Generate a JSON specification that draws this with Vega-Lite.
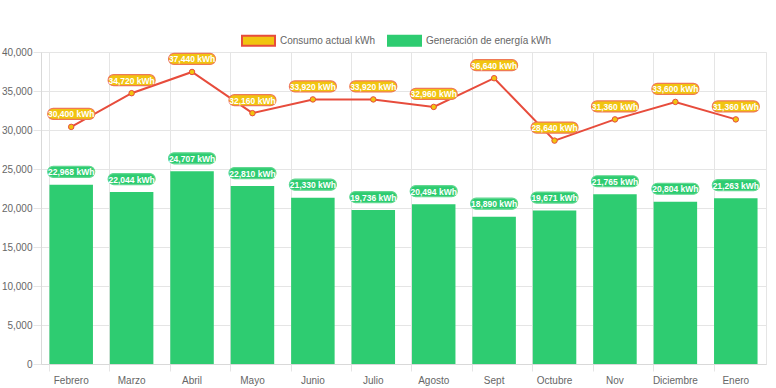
{
  "$schema": "https://vega.github.io/schema/vega-lite/v6.json",
  "width": 725,
  "height": 312,
  "autosize": {"type": "none"},
  "padding": {"left": 41, "top": 52, "right": 10, "bottom": 24},
  "background": "white",
  "config": {
    "font": "Liberation Sans",
    "view": {"stroke": "#e5e5e5"},
    "axis": {"labelColor": "#666", "labelFontSize": 10, "gridColor": "#e5e5e5", "tickColor": "#e5e5e5", "domainColor": "#d9d9d9", "titleFontSize": 11}
  },
  "data": {
    "values": [
      {"mes": "Febrero", "serie": "Consumo actual kWh", "valor": 30400},
      {"mes": "Marzo", "serie": "Consumo actual kWh", "valor": 34720},
      {"mes": "Abril", "serie": "Consumo actual kWh", "valor": 37440},
      {"mes": "Mayo", "serie": "Consumo actual kWh", "valor": 32160},
      {"mes": "Junio", "serie": "Consumo actual kWh", "valor": 33920},
      {"mes": "Julio", "serie": "Consumo actual kWh", "valor": 33920},
      {"mes": "Agosto", "serie": "Consumo actual kWh", "valor": 32960},
      {"mes": "Sept", "serie": "Consumo actual kWh", "valor": 36640},
      {"mes": "Octubre", "serie": "Consumo actual kWh", "valor": 28640},
      {"mes": "Nov", "serie": "Consumo actual kWh", "valor": 31360},
      {"mes": "Diciembre", "serie": "Consumo actual kWh", "valor": 33600},
      {"mes": "Enero", "serie": "Consumo actual kWh", "valor": 31360},
      {"mes": "Febrero", "serie": "Generación de energía kWh", "valor": 22968},
      {"mes": "Marzo", "serie": "Generación de energía kWh", "valor": 22044},
      {"mes": "Abril", "serie": "Generación de energía kWh", "valor": 24707},
      {"mes": "Mayo", "serie": "Generación de energía kWh", "valor": 22810},
      {"mes": "Junio", "serie": "Generación de energía kWh", "valor": 21330},
      {"mes": "Julio", "serie": "Generación de energía kWh", "valor": 19736},
      {"mes": "Agosto", "serie": "Generación de energía kWh", "valor": 20494},
      {"mes": "Sept", "serie": "Generación de energía kWh", "valor": 18890},
      {"mes": "Octubre", "serie": "Generación de energía kWh", "valor": 19671},
      {"mes": "Nov", "serie": "Generación de energía kWh", "valor": 21765},
      {"mes": "Diciembre", "serie": "Generación de energía kWh", "valor": 20804},
      {"mes": "Enero", "serie": "Generación de energía kWh", "valor": 21263}
    ]
  },
  "transform": [
    {"calculate": "format(datum.valor, ',') + ' kWh'", "as": "etiqueta"}
  ],
  "encoding": {
    "x": {
      "field": "mes", "type": "nominal", "sort": null,
      "scale": {"paddingInner": 0.28, "paddingOuter": 0.14},
      "axis": {"title": null, "labelAngle": 0, "bandPosition": 0, "tickSize": 7, "labelPadding": 4, "grid": true, "domainColor": "#d9d9d9"}
    },
    "y": {
      "field": "valor", "type": "quantitative",
      "scale": {"domain": [0, 40000]},
      "axis": {"title": null, "tickCount": 8, "format": ",.0f", "tickSize": 8, "labelPadding": 1, "grid": true}
    }
  },
  "layer": [
    {
      "transform": [{"filter": "datum.serie === 'Generación de energía kWh'"}],
      "mark": {"type": "bar", "strokeWidth": 0},
      "encoding": {
        "fill": {
          "field": "serie", "type": "nominal",
          "scale": {"domain": ["Consumo actual kWh", "Generación de energía kWh"], "range": ["#F1C40F", "#2ECC71"]},
          "legend": {
            "orient": "none", "legendX": 200, "legendY": -29, "direction": "horizontal", "title": null,
            "symbolType": "M-1,-0.3H1V0.3H-1Z", "symbolSize": 1089, "symbolStrokeWidth": 2,
            "labelFontSize": 10, "labelColor": "#666", "labelOffset": 4, "columnPadding": 8
          }
        },
        "stroke": {
          "field": "serie", "type": "nominal",
          "scale": {"domain": ["Consumo actual kWh", "Generación de energía kWh"], "range": ["#E74C3C", "#2ECC71"]},
          "legend": {
            "orient": "none", "legendX": 200, "legendY": -29, "direction": "horizontal", "title": null,
            "symbolType": "M-1,-0.3H1V0.3H-1Z", "symbolSize": 1089, "symbolStrokeWidth": 2,
            "labelFontSize": 10, "labelColor": "#666", "labelOffset": 4, "columnPadding": 8
          }
        }
      }
    },
    {
      "transform": [{"filter": "datum.serie === 'Consumo actual kWh'"}],
      "mark": {"type": "line", "color": "#E74C3C", "strokeWidth": 2},
      "encoding": {}
    },
    {
      "transform": [{"filter": "datum.serie === 'Consumo actual kWh'"}],
      "mark": {"type": "point", "filled": true, "fill": "#F1C40F", "stroke": "#E74C3C", "strokeWidth": 1, "size": 30, "opacity": 1},
      "encoding": {}
    },
    {
      "transform": [{"filter": "datum.serie === 'Consumo actual kWh'"}],
      "mark": {"type": "tick", "orient": "horizontal", "size": 47, "thickness": 11, "cornerRadius": 5.5, "color": "#F1C40F", "stroke": "#EF7A55", "strokeWidth": 1.2, "opacity": 1, "yOffset": -13},
      "encoding": {}
    },
    {
      "transform": [{"filter": "datum.serie === 'Generación de energía kWh'"}],
      "mark": {"type": "tick", "orient": "horizontal", "size": 47, "thickness": 11, "cornerRadius": 5.5, "color": "#2ECC71", "stroke": "#62D891", "strokeWidth": 1.2, "opacity": 1, "yOffset": -13},
      "encoding": {}
    },
    {
      "mark": {"type": "text", "color": "white", "fontWeight": "bold", "fontSize": 8.5, "baseline": "middle", "align": "center", "yOffset": -12.5},
      "encoding": {"text": {"field": "etiqueta"}}
    }
  ]
}
